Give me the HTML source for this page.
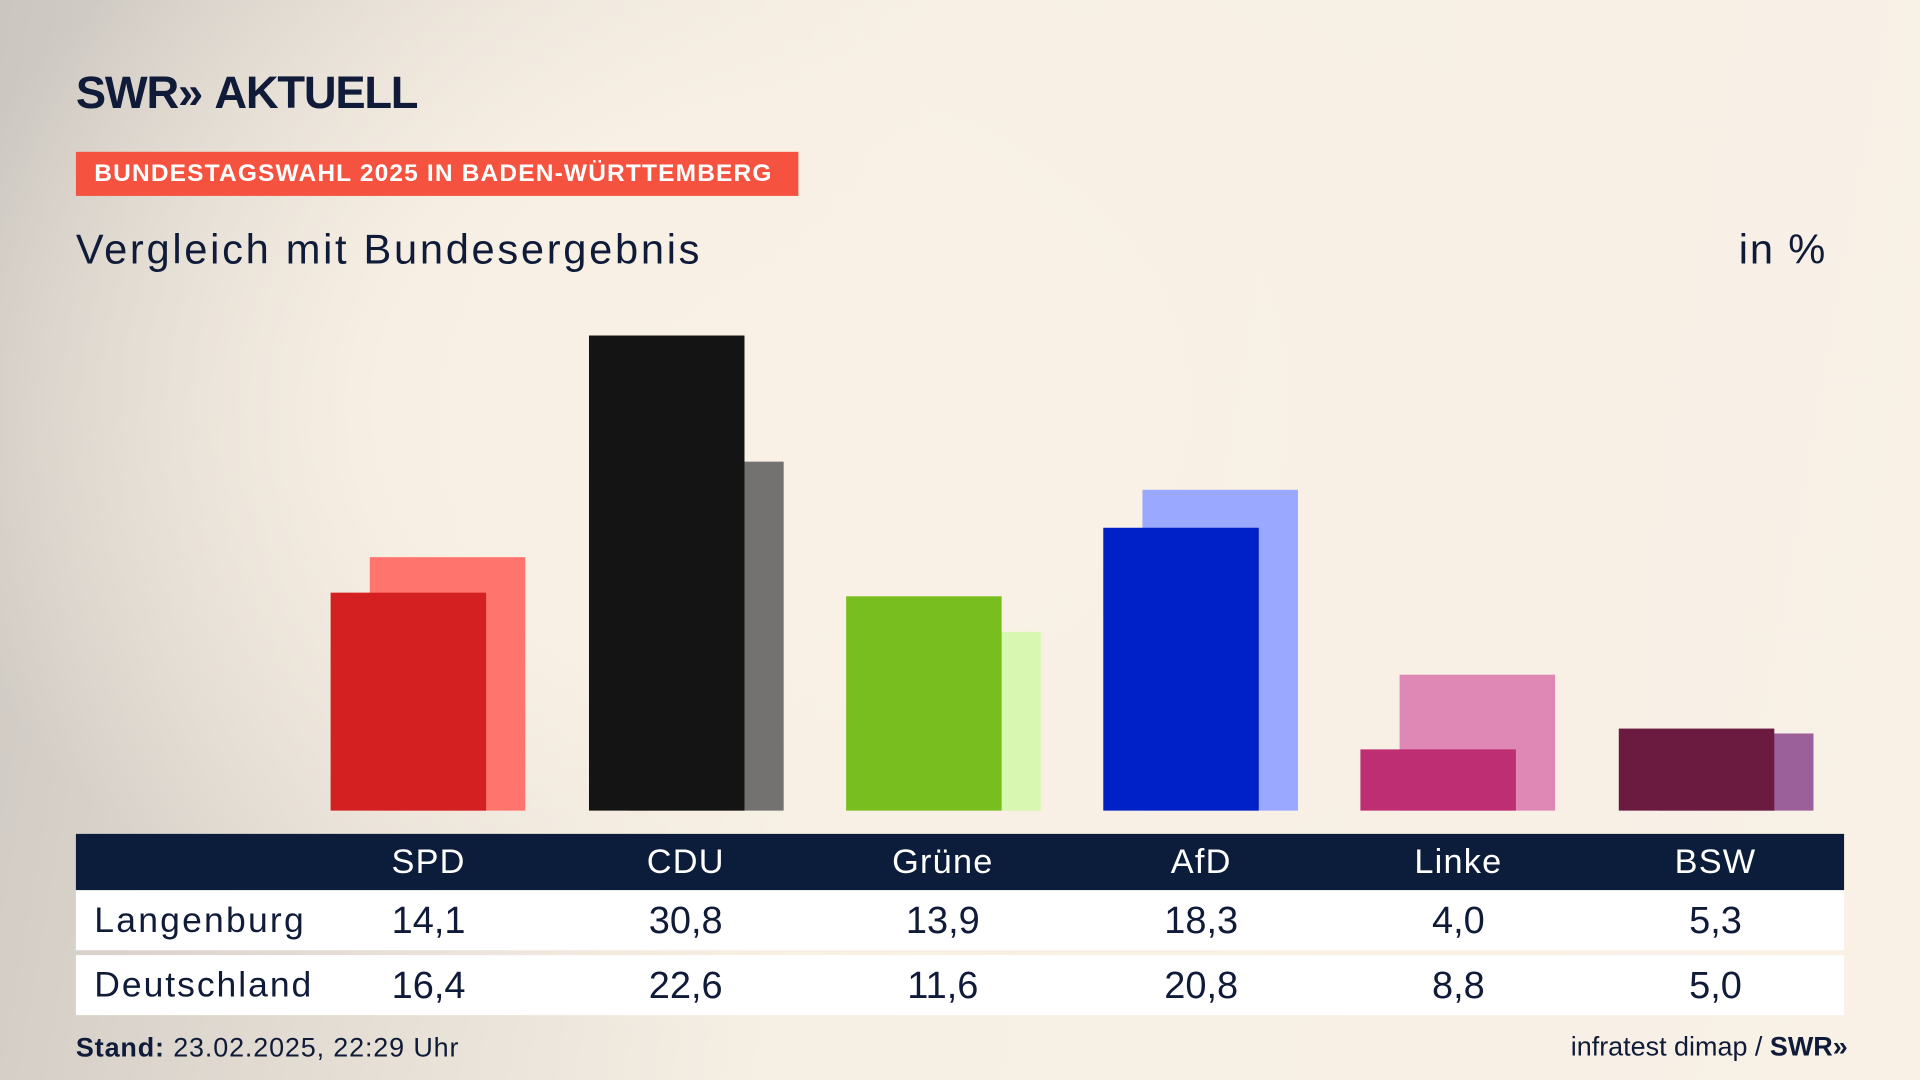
<!DOCTYPE html>
<html><head><meta charset="utf-8">
<style>
html,body{margin:0;padding:0;width:1920px;height:1080px;overflow:hidden;}
#w{position:absolute;left:0;top:0;width:1568px;height:882px;transform:scale(1.22449);transform-origin:0 0;
font-family:"Liberation Sans","DejaVu Sans",sans-serif;color:#0f1b38;
background:
radial-gradient(ellipse 700px 520px at 620px 330px, rgba(249,241,229,1) 0%, rgba(249,241,229,0.9) 45%, rgba(249,241,229,0) 100%),
linear-gradient(100deg,#cbc6c0 0%,#e2dbd2 22%,#f6efe4 45%,#f9f1e6 100%);}
.a{position:absolute;}
.bar{position:absolute;bottom:220px;width:127px;}
.lab{position:absolute;width:200px;text-align:center;font-size:28px;}
</style></head><body><div id="w">
<div class="a" style="left:62px;top:55px;font-size:37px;font-weight:bold;letter-spacing:-1px;color:#0f1b38;">SWR<span style="letter-spacing:-8px">»</span>&nbsp; AKTUELL</div>
<div class="a" style="left:62px;top:124px;width:590px;height:36px;background:#f5533f;"></div>
<div class="a" style="left:77px;top:131px;font-size:20px;font-weight:bold;color:#fff;letter-spacing:0.95px;">BUNDESTAGSWAHL 2025 IN BADEN-WÜRTTEMBERG</div>
<div class="a" style="left:62px;top:185px;font-size:34px;letter-spacing:2.2px;">Vergleich mit Bundesergebnis</div>
<div class="a" style="left:1420px;top:185px;font-size:34px;letter-spacing:1.5px;">in %</div>

<div class="bar" style="left:302px;height:207px;background:#ff756d;"></div>
<div class="bar" style="left:513px;height:285px;background:#747270;"></div>
<div class="bar" style="left:723px;height:146px;background:#d8f7b0;"></div>
<div class="bar" style="left:933px;height:262px;background:#9aa8ff;"></div>
<div class="bar" style="left:1143px;height:111px;background:#df88b5;"></div>
<div class="bar" style="left:1354px;height:63px;background:#9b6099;"></div>
<div class="bar" style="left:270px;height:178px;background:#d42020;"></div>
<div class="bar" style="left:481px;height:388px;background:#141414;"></div>
<div class="bar" style="left:691px;height:175px;background:#78be1e;"></div>
<div class="bar" style="left:901px;height:231px;background:#0021c8;"></div>
<div class="bar" style="left:1111px;height:50px;background:#bd2f72;"></div>
<div class="bar" style="left:1322px;height:67px;background:#6b1a40;"></div>

<div class="a" style="left:62px;top:681px;width:1444px;height:46px;background:#0c1d3c;"></div>
<div class="a" style="left:62px;top:727px;width:1444px;height:49px;background:#fff;"></div>
<div class="a" style="left:62px;top:780px;width:1444px;height:49px;background:#fff;"></div>

<div style="position:absolute;top:688px;left:0;color:#fff;letter-spacing:1px;">
<div class="lab" style="left:250px">SPD</div><div class="lab" style="left:460px">CDU</div><div class="lab" style="left:670px">Grüne</div><div class="lab" style="left:881px">AfD</div><div class="lab" style="left:1091px">Linke</div><div class="lab" style="left:1301px">BSW</div></div>
<div class="a" style="left:77px;top:736px;font-size:29px;letter-spacing:1.8px;">Langenburg</div>
<div style="position:absolute;top:734px;left:0;">
<div class="lab" style="left:250px;font-size:31px">14,1</div><div class="lab" style="left:460px;font-size:31px">30,8</div><div class="lab" style="left:670px;font-size:31px">13,9</div><div class="lab" style="left:881px;font-size:31px">18,3</div><div class="lab" style="left:1091px;font-size:31px">4,0</div><div class="lab" style="left:1301px;font-size:31px">5,3</div></div>
<div class="a" style="left:77px;top:789px;font-size:29px;letter-spacing:1.6px;">Deutschland</div>
<div style="position:absolute;top:787px;left:0;">
<div class="lab" style="left:250px;font-size:31px">16,4</div><div class="lab" style="left:460px;font-size:31px">22,6</div><div class="lab" style="left:670px;font-size:31px">11,6</div><div class="lab" style="left:881px;font-size:31px">20,8</div><div class="lab" style="left:1091px;font-size:31px">8,8</div><div class="lab" style="left:1301px;font-size:31px">5,0</div></div>

<div class="a" style="left:62px;top:843px;font-size:22px;letter-spacing:0.7px;"><b>Stand:</b> 23.02.2025, 22:29 Uhr</div>
<div class="a" style="right:64px;top:842px;font-size:22px;">infratest dimap / <b>SWR<span style="letter-spacing:-5px">»</span></b></div>
</div></body></html>
